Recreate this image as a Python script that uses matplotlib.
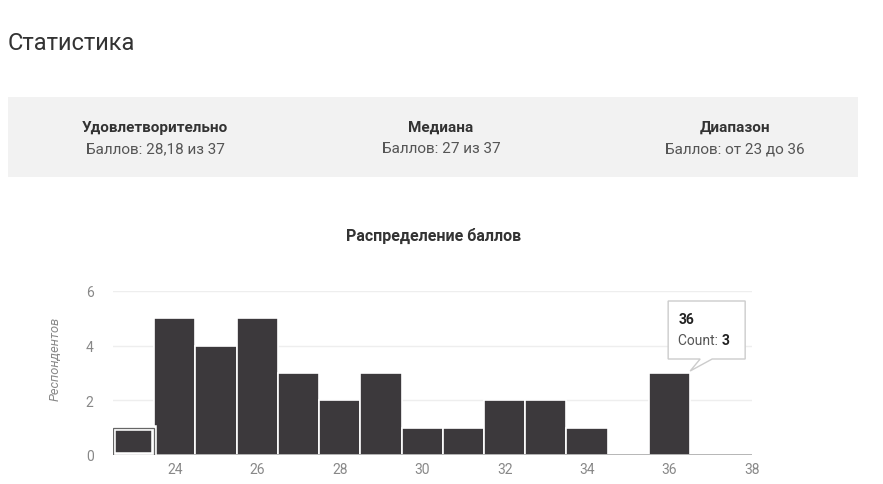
import matplotlib.pyplot as plt
import matplotlib.transforms as mtransforms
from matplotlib.patches import Rectangle, Polygon

plt.rcParams['font.family'] = ['Roboto', 'DejaVu Sans']

# data
scores = [23, 24, 25, 26, 27, 28, 29, 30, 31, 32, 33, 34, 35, 36, 37]
counts = [1, 5, 4, 5, 3, 2, 3, 1, 1, 2, 2, 1, 0, 3, 0]
highlight_score = 23
tooltip_score = 36

summary_titles = ['Удовлетворительно', 'Медиана', 'Диапазон']
summary_values = ['Баллов: 28,18 из 37', 'Баллов: 27 из 37', 'Баллов: от 23 до 36']

x_ticks = [24, 26, 28, 30, 32, 34, 36, 38]
y_ticks = [0, 2, 4, 6]

bar_color = '#3c393c'

fig = plt.figure(figsize=(8.83, 4.85), dpi=100)

# page title
fig.text(8 / 883, 1 - 43 / 485, 'Статистика', fontsize=17, color='#333333',
         va='center', ha='left')

# summary box
fig.patches.append(Rectangle((8 / 883, 1 - 178 / 485), 850 / 883, 80 / 485,
                             transform=fig.transFigure, facecolor='#f2f2f2',
                             edgecolor='none', zorder=0))
for cx, t, v in zip([155, 441, 735], summary_titles, summary_values):
    fig.text(cx / 883, 1 - 128 / 485, t, fontsize=11, fontweight='bold',
             color='#333333', ha='center', va='center')
    fig.text(cx / 883, 1 - 149 / 485, v, fontsize=11, color='#555555',
             ha='center', va='center')

# chart title
fig.text(434 / 883, 1 - 236 / 485, 'Распределение баллов', fontsize=11.5,
         fontweight='bold', color='#333333', ha='center', va='center')

ax = fig.add_axes([113 / 883, 29 / 485, 639 / 883, 164 / 485])

ax.bar(scores, counts, width=1.0, color=bar_color, edgecolor='white',
       linewidth=1.2, zorder=3)

# highlighted (selected) bar: grey outline, white ring, dark fill
hi = scores.index(highlight_score)
ax.bar(scores[hi], counts[hi], width=1.0, color=bar_color, edgecolor='white',
       linewidth=4, zorder=4)
ax.bar(scores[hi], counts[hi], width=1.0, fill=False, edgecolor='#666666',
       linewidth=0.9, zorder=5)

ax.set_xlim(22.5, 38)
ax.set_ylim(0, 6)
ax.set_xticks(x_ticks)
ax.set_yticks(y_ticks)
ax.tick_params(length=0, labelsize=10, colors='#888888')
ax.tick_params(axis='y', pad=14)
ax.tick_params(axis='x', pad=5)
for s in ax.spines.values():
    s.set_visible(False)
ax.grid(axis='y', color='#eeeeee', linewidth=1, zorder=0)
ax.axhline(0, color='#aaaaaa', linewidth=1.2, zorder=3.5)

ax.set_ylabel('Респондентов', fontsize=9.3, style='italic', color='#888888')
ax.yaxis.set_label_coords(-0.08, 0.59)
ax.set_xlabel('Количество баллов', fontsize=9, style='italic', color='#bbbbbb',
              labelpad=8)

# tooltip at top-right corner of the bar
ti = scores.index(tooltip_score)
anchor = mtransforms.ScaledTranslation(scores[ti] + 0.5, counts[ti], ax.transData)
trans = fig.dpi_scale_trans + anchor
shape = [(-0.22, 0.14), (0.10, 0.14), (0.0, 0.02), (0.22, 0.14), (0.55, 0.14),
         (0.55, 0.72), (-0.22, 0.72)]
ax.add_patch(Polygon(shape, closed=True, transform=trans, facecolor='white',
                     edgecolor='#cccccc', linewidth=1, zorder=6, clip_on=False))
ax.text(-0.12, 0.54, str(tooltip_score), transform=trans, fontsize=10,
        fontweight='bold', color='#222222', va='center', ha='left', zorder=7)
cnt = ax.text(-0.12, 0.33, 'Count: ', transform=trans, fontsize=10,
              color='#555555', va='center', ha='left', zorder=7)
ax.annotate(str(counts[ti]), xy=(1, 0.5), xycoords=cnt, fontsize=10,
            fontweight='bold', color='#222222', va='center', ha='left', zorder=7)

fig.savefig('out.png', dpi=100)
